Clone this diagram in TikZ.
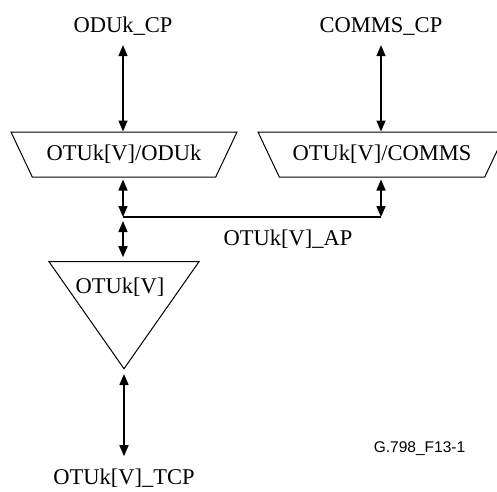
\documentclass[tikz,border=0pt]{standalone}
\usepackage{fontspec}
\setmainfont{Liberation Serif}
\setsansfont{Liberation Sans}
\usetikzlibrary{arrows.meta,shapes.geometric}

\begin{document}
\begin{tikzpicture}[
  x=1pt, y=-1pt,
  >={Triangle[length=11pt,width=9pt]},
  every node/.style={font=\fontsize{22.5}{26}\selectfont, inner sep=0pt},
  point/.style={anchor=base},
  adapt/.style={trapezium, draw, line width=1pt, trapezium left angle=64,
                trapezium right angle=64, shape border rotate=180,
                trapezium stretches body, inner ysep=12.5pt,
                minimum height=45pt},
  termsink/.style={isosceles triangle, draw, line width=1pt,
                   shape border rotate=270, isosceles triangle stretches,
                   minimum width=150pt, minimum height=107pt},
  link/.style={<->, line width=1.5pt},
  bus/.style={line width=1.2pt}
]

\useasboundingbox (0,0) rectangle (497,491);

\node[point] (oducp)   at (123,32) {ODUk\_CP};
\node[point] (commscp) at (381,32) {COMMS\_CP};

\node[adapt, minimum width=226pt] (odukad)  at (124,154.5) {OTUk[V]/ODUk};
\node[adapt, minimum width=248pt] (commsad) at (382,154.5) {OTUk[V]/COMMS};

\node[termsink, anchor=apex] (otuk) at (124,370) {};
\node[point] (otuklbl) at (120,293) {OTUk[V]};

\node[point] (aplbl) at (288,245) {OTUk[V]\_AP};
\node[point] (tcp)   at (124,484) {OTUk[V]\_TCP};
\node[point, font=\sffamily\fontsize{15.5}{18}\selectfont] (figid) at (419.5,452) {G.798\_F13-1};

\coordinate (apjoin)    at (123,217);
\coordinate (commsjoin) at (381,217);

\draw[link, shorten <=10pt] (oducp.south) -- (oducp.south |- odukad.north);
\draw[link, shorten <=10pt] (commscp.south) -- (commscp.south |- commsad.north);

\draw[link, shorten <=2pt] (apjoin |- odukad.south) -- (apjoin);
\draw[link, shorten <=2pt] (commsjoin |- commsad.south) -- (commsjoin);
\draw[bus] (apjoin) -- (commsjoin);

\draw[link, shorten <=4pt, shorten >=4pt] (apjoin) -- (apjoin |- otuk.lower side);
\draw[link, shorten <=4pt, shorten >=12pt] (otuk.apex) -- (otuk.apex |- tcp.north);

\end{tikzpicture}
\end{document}
